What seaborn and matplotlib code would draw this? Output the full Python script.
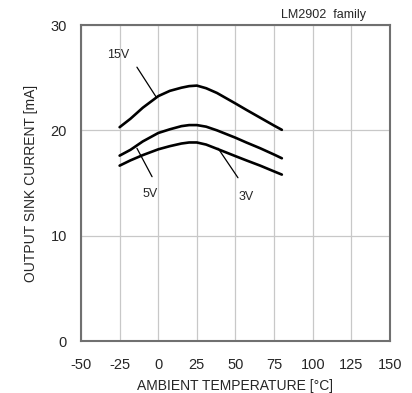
import pandas as pd
import matplotlib
matplotlib.use("Agg")
import matplotlib.pyplot as plt
import seaborn as sns

# данные
temp = [-25, -18, -10, 0, 7.5, 15, 20, 25, 31, 38, 44, 50, 57, 66, 75, 80]
sink_15v = [20.3, 21.1, 22.15, 23.25, 23.75, 24.05, 24.2, 24.25, 24.0, 23.55,
            23.05, 22.55, 21.95, 21.2, 20.45, 20.05]
sink_5v = [17.6, 18.15, 18.95, 19.75, 20.1, 20.4, 20.5, 20.5, 20.35, 20.0,
           19.65, 19.3, 18.85, 18.3, 17.7, 17.35]
sink_3v = [16.65, 17.15, 17.65, 18.2, 18.5, 18.75, 18.85, 18.85, 18.65, 18.25,
           17.9, 17.55, 17.15, 16.65, 16.1, 15.8]
x_ticks = [-50, -25, 0, 25, 50, 75, 100, 125, 150]
y_ticks = [0, 10, 20, 30]

df = pd.concat([
    pd.DataFrame({'temp': temp, 'current': sink_15v, 'vcc': '15V'}),
    pd.DataFrame({'temp': temp, 'current': sink_5v, 'vcc': '5V'}),
    pd.DataFrame({'temp': temp, 'current': sink_3v, 'vcc': '3V'}),
])

sns.set_style('white')
plt.rcParams['font.family'] = ['Liberation Sans', 'DejaVu Sans']
plt.rcParams['axes.unicode_minus'] = False

fig = plt.figure(figsize=(4.12, 3.93), dpi=100)
ax = fig.add_axes([0.1966, 0.1323, 0.75, 0.804])

sns.lineplot(data=df, x='temp', y='current', hue='vcc',
             palette=['black', 'black', 'black'], linewidth=1.9,
             legend=False, ax=ax)

ax.set_xlim(-50, 150)
ax.set_ylim(0, 30)
ax.set_xticks(x_ticks)
ax.set_yticks(y_ticks)
ax.grid(True, color='#c8c8c8', linewidth=0.9)
for s in ax.spines.values():
    s.set_color('#707070')
    s.set_linewidth(1.5)
ax.tick_params(axis='x', length=0, labelsize=10.5, pad=12)
ax.tick_params(axis='y', length=0, labelsize=10.5, pad=10)
ax.set_xlabel('AMBIENT TEMPERATURE [°C]', fontsize=10, labelpad=5)
ax.set_ylabel('OUTPUT SINK CURRENT [mA]', fontsize=10, labelpad=9)

# подписи кривых
line = dict(arrowstyle='-', color='black', lw=0.9, shrinkA=0, shrinkB=0)
ax.annotate('', xy=(-1.5, 23.2), xytext=(-13.8, 26.0), arrowprops=line)
ax.text(-26, 27.2, '15V', fontsize=9, ha='center', va='center')
ax.annotate('', xy=(-4.0, 15.6), xytext=(-13.8, 18.3), arrowprops=line)
ax.text(-5.3, 14.0, '5V', fontsize=9, ha='center', va='center')
ax.annotate('', xy=(51.6, 15.5), xytext=(38.7, 18.3), arrowprops=line)
ax.text(56.8, 13.7, '3V', fontsize=9, ha='center', va='center')

ax.text(134.5, 31.0, 'LM2902  family', fontsize=9, ha='right', va='center')

fig.savefig('out.png', dpi=100)
